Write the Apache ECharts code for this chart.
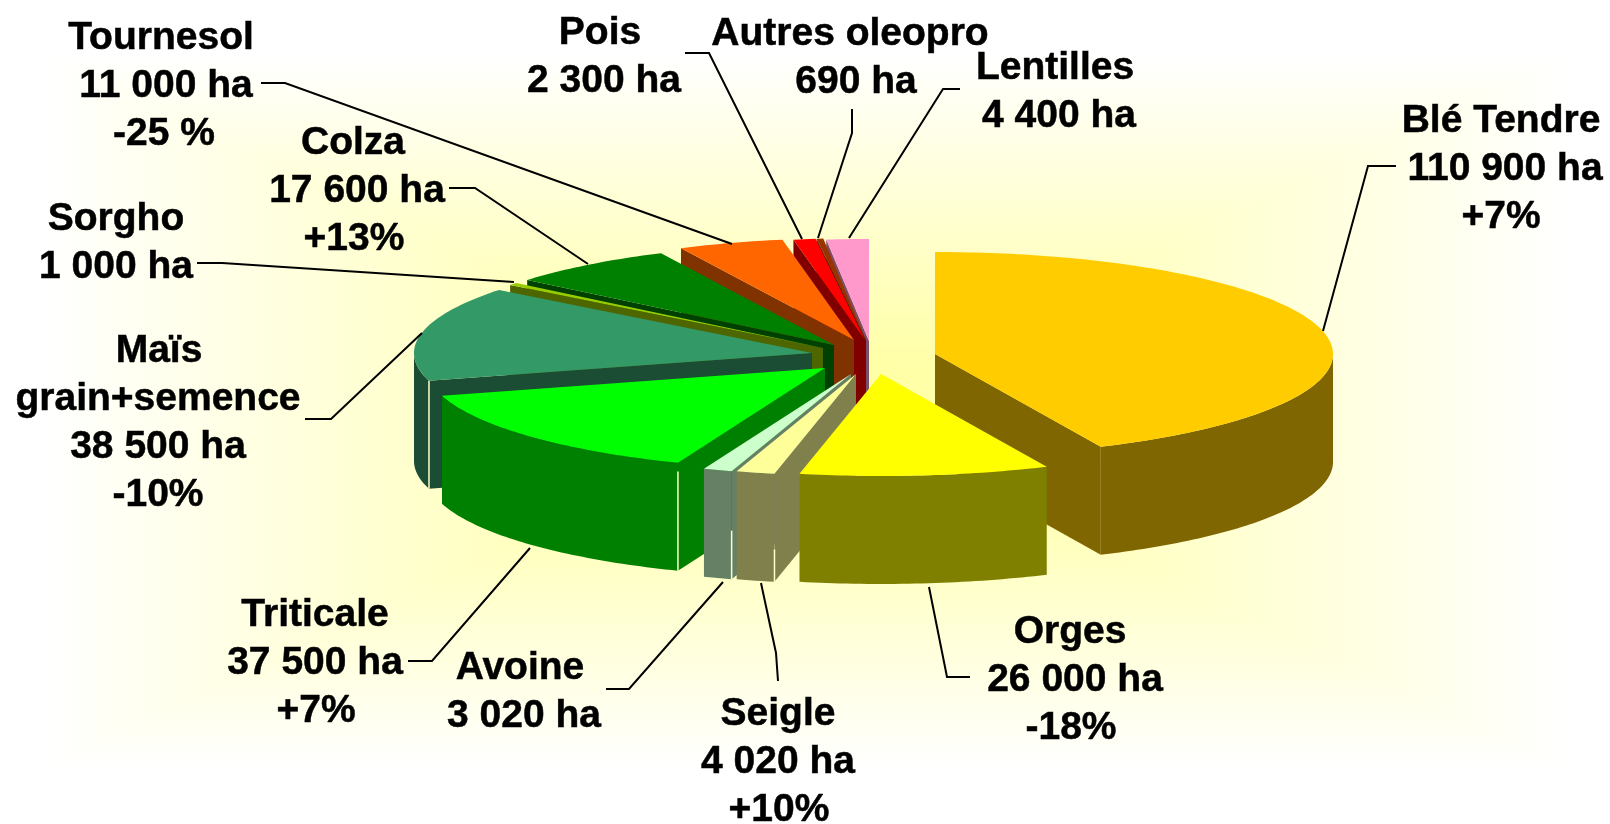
<!DOCTYPE html>
<html>
<head>
<meta charset="utf-8">
<style>html,body{margin:0;padding:0;background:#fff}#c{width:1610px;height:824px}</style>
<script src="https://cdn.jsdelivr.net/npm/echarts@6/dist/echarts.min.js"></script>
</head>
<body>
<div id="c"></div>
<script>
// ---- data ----
const categories = ['Blé Tendre','Orges','Seigle','Avoine','Triticale','Maïs\ngrain+semence','Sorgho','Colza','Tournesol','Pois','Autres oleopro','Lentilles'];
const hectares   = [110900,26000,4020,3020,37500,38500,1000,17600,11000,2300,690,4400];
const areaLabels = ['110 900 ha','26 000 ha','4 020 ha','3 020 ha','37 500 ha','38 500 ha','1 000 ha','17 600 ha','11 000 ha','2 300 ha','690 ha','4 400 ha'];
const changes    = ['+7%','-18%','+10%','','+7%','-10%','','+13%','-25 %','','',''];

// ---- styling & layout (not data) ----
const topColors  = ['#FFCC00','#FFFF00','#FFFF99','#CCFFCC','#00FF00','#339966','#99CC00','#008000','#FF6600','#FF0000','#993300','#FF99CC'];
const sideColors = ['#806600','#808000','#80804D','#668066','#008000','#1A4D33','#4D6600','#004000','#803300','#800000','#4D1A00','#804D66'];
const apexes = [[935,354],[881,374],[856,374],[851,374],[825,368],[812,353],[823,348],[834,345],[854,340],[865,340],[866,340],[869,341]];
const seams  = [0,0,0.3,0.45,0.92,1,0,0,0,0,0,0];
const drawOrder = [0,11,10,9,8,7,6,5,4,3,2,1];
const labelAnchors = [[1505,97],[1075,608],[778,690],[524,644],[315,591],[158,327],[116,195],[357,119],[161,14],[604,9],[850,10],[1057,44]];
const lineShifts = [[-4,0,-4],[-5,0,-4],[0,0,1],[-4,0],[0,0,1],[1,0,0,0],[0,0],[-4,0,-3],[0,5,3],[-4,0],[0,6],[-2,2]];
const leaders = [
  [[1396,166],[1368,166],[1323,331]],
  [[970,677],[947,677],[929,587]],
  [[778,681],[776,653],[761,583]],
  [[606,689],[629,689],[723,582]],
  [[408,661],[432,661],[530,548]],
  [[305,419],[331,419],[422,333]],
  [[197,263],[222,263],[514,282]],
  [[449,188],[475,188],[588,264]],
  [[261,83],[285,83],[732,244]],
  [[685,53],[709,53],[802,239]],
  [[852,109],[852,133],[818,238]],
  [[960,89],[943,89],[849,238]]
];
const RX = 398, RY = 102, DEPTH = 108;
const FONT = 'bold 39px "Liberation Sans", Arial, sans-serif';
const LINE_H = 48;

const total = hectares.reduce((a, b) => a + b, 0);
const starts = [];
hectares.reduce((acc, v, i) => { starts[i] = acc; return acc + v; }, 0);

function pt(apex, deg, dy) {
  const r = deg * Math.PI / 180;
  return [apex[0] + RX * Math.sin(r), apex[1] - RY * Math.cos(r) + (dy || 0)];
}
function arc(apex, a, b, dy) {
  const out = [];
  const n = Math.max(2, Math.ceil(b - a));
  for (let k = 0; k <= n; k++) out.push(pt(apex, a + (b - a) * k / n, dy));
  return out;
}
function wall(apex, deg) {
  const p = pt(apex, deg);
  return [apex, p, [p[0], p[1] + DEPTH], [apex[0], apex[1] + DEPTH]];
}

function renderItem(params, api) {
  const i = api.value(1);
  const a = starts[i] / total * 360;
  const b = a + api.value(0) / total * 360;
  const apex = apexes[i];
  const children = [];
  const side = { fill: sideColors[i] };
  const poly = (points, style) => ({ type: 'polygon', shape: { points }, style, silent: true });

  if (Math.sin(a * Math.PI / 180) < -1e-6) children.push(poly(wall(apex, a), side));
  if (Math.sin(b * Math.PI / 180) > 1e-6) children.push(poly(wall(apex, b), side));
  const fa = Math.max(a, 90), fb = Math.min(b, 270);
  if (fb > fa) {
    children.push(poly(arc(apex, fa, fb, 0).concat(arc(apex, fa, fb, DEPTH).reverse()), side));
  }
  if (seams[i] > 0) {
    const s = pt(apex, a);
    children.push({
      type: 'line', silent: true,
      shape: { x1: s[0], y1: s[1] + DEPTH * (1 - seams[i]), x2: s[0], y2: s[1] + DEPTH },
      style: { stroke: '#FFFFC8', lineWidth: 1.5 }
    });
  }
  children.push(poly([apex].concat(arc(apex, a, b, 0)), { fill: topColors[i] }));

  children.push({
    type: 'polyline', silent: true, shape: { points: leaders[i] },
    style: { stroke: '#000', lineWidth: 2, fill: null }, z2: 50
  });
  const lines = categories[i].split('\n').concat(areaLabels[i]);
  if (changes[i]) lines.push(changes[i]);
  lines.forEach((text, k) => {
    children.push({
      type: 'text', silent: true, z2: 60,
      style: {
        text, x: labelAnchors[i][0] + lineShifts[i][k], y: labelAnchors[i][1] + k * LINE_H,
        align: 'center', verticalAlign: 'top', font: FONT, lineHeight: LINE_H,
        fill: '#000', stroke: '#000', lineWidth: 0.5
      }
    });
  });
  return { type: 'group', children };
}

// Rectangular path gradient behind the pie: white margin, then white edge to pale yellow centre.
const W = 1610, H = 824, CX = 805, CY = 412, IN_X = 40, IN_Y = 55;
const edge = '#FFFFFF', mid = '#FFFF99';
const grad = (x, y, x2, y2) => ({
  type: 'linear', x, y, x2, y2, global: false,
  colorStops: [{ offset: 0, color: edge }, { offset: 1, color: mid }]
});
const bgShape = (points, fill) => ({
  type: 'polygon', shape: { points }, style: { fill }, silent: true, z: -10
});
const L = IN_X, R = W - IN_X, T = IN_Y, B = H - IN_Y;

const chart = echarts.init(document.getElementById('c'), null, { renderer: 'canvas' });
chart.setOption({
  animation: false,
  backgroundColor: '#fff',
  graphic: { elements: [
    bgShape([[L, T], [R, T], [CX, CY]], grad(0, 0, 0, 1)),
    bgShape([[L, B], [R, B], [CX, CY]], grad(0, 1, 0, 0)),
    bgShape([[L, T], [L, B], [CX, CY]], grad(0, 0, 1, 0)),
    bgShape([[R, T], [R, B], [CX, CY]], grad(1, 0, 0, 0))
  ] },
  series: [{
    type: 'custom',
    coordinateSystem: 'none',
    renderItem,
    animation: false,
    silent: true,
    // Painted back to front, with the front slice (Orges) last.
    data: drawOrder.map(i => [hectares[i], i])
  }]
});
</script>
</body>
</html>
